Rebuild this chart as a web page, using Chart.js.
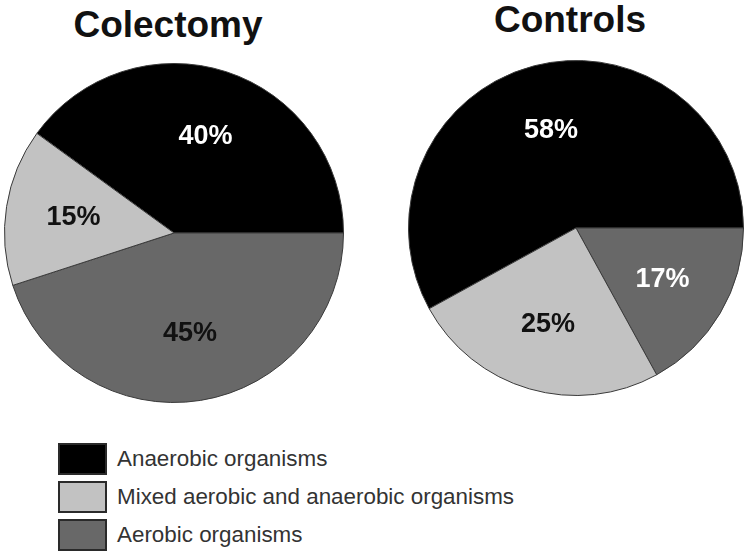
<!DOCTYPE html>
<html>
<head>
<meta charset="utf-8">
<script src="https://cdn.jsdelivr.net/npm/chart.js@4.4.1/dist/chart.umd.min.js"></script>
<style>
  body { margin: 0; background: #fff; font-family: "Liberation Sans", Arial, sans-serif; }
  #page { position: relative; width: 750px; height: 558px; overflow: hidden; }
  .title { position: absolute; font-weight: bold; font-size: 37px; line-height: 37px; color: #111; text-align: center; }
  canvas { position: absolute; }
  #legend { position: absolute; left: 58px; top: 443px; }
  .item { height: 38px; display: flex; align-items: flex-start; }
  .box { width: 45px; height: 28px; border: 2px solid #2a2a2a; box-sizing: content-box; }
  .txt { margin-left: 10px; font-size: 22.4px; line-height: 32px; color: #333; }
</style>
</head>
<body>
<div id="page">
  <div class="title" style="left:0; width:336px; top:6px;">Colectomy</div>
  <div class="title" style="left:370px; width:400px; top:1px;">Controls</div>
  <canvas id="colectomy" width="340" height="340" style="left:4px; top:63px;"></canvas>
  <canvas id="controls" width="336" height="336" style="left:408px; top:60px;"></canvas>
  <div id="legend"></div>
</div>
<script>
const categories = ["Anaerobic organisms", "Mixed aerobic and anaerobic organisms", "Aerobic organisms"];
const colectomyValues = [40, 15, 45];
const controlsValues = [58, 25, 17];

// colours per category, and the order the slices run clockwise from the black one
const sliceColors = ["#000000", "#c2c2c2", "#686868"];
const drawOrder = [0, 2, 1];
const colectomyLabelColors = ["#ffffff", "#111111", "#111111"];
const controlsLabelColors = ["#ffffff", "#111111", "#ffffff"];

const pctLabels = {
  id: "pctLabels",
  afterDatasetsDraw(chart, args, opts) {
    const ctx = chart.ctx;
    const meta = chart.getDatasetMeta(0);
    ctx.save();
    ctx.font = "bold 27px 'Liberation Sans', Arial, sans-serif";
    ctx.textAlign = "center";
    ctx.textBaseline = "middle";
    meta.data.forEach((arc, i) => {
      const p = arc.getProps(["x", "y", "startAngle", "endAngle", "outerRadius"], true);
      const mid = (p.startAngle + p.endAngle) / 2;
      const r = p.outerRadius * 0.6;
      ctx.fillStyle = opts.colors[i];
      ctx.fillText(chart.data.datasets[0].data[i] + "%", p.x + Math.cos(mid) * r, p.y + Math.sin(mid) * r);
    });
    ctx.restore();
  }
};

function makePie(id, values, labelColors) {
  const ordered = drawOrder.map(i => values[i]);
  new Chart(document.getElementById(id), {
    type: "pie",
    data: {
      labels: drawOrder.map(i => categories[i]),
      datasets: [{
        data: ordered,
        backgroundColor: drawOrder.map(i => sliceColors[i]),
        borderColor: "#3a3a3a",
        borderWidth: 1
      }]
    },
    options: {
      responsive: false,
      animation: false,
      rotation: 450 - values[0] * 3.6,
      layout: { padding: 0 },
      plugins: {
        legend: { display: false },
        tooltip: { enabled: false },
        pctLabels: { colors: drawOrder.map(i => labelColors[i]) }
      }
    },
    plugins: [pctLabels]
  });
}

makePie("colectomy", colectomyValues, colectomyLabelColors);
makePie("controls", controlsValues, controlsLabelColors);

const legend = document.getElementById("legend");
categories.forEach((name, i) => {
  const row = document.createElement("div");
  row.className = "item";
  row.innerHTML = '<div class="box" style="background:' + sliceColors[i] + '"></div><div class="txt">' + name + '</div>';
  legend.appendChild(row);
});
</script>
</body>
</html>
